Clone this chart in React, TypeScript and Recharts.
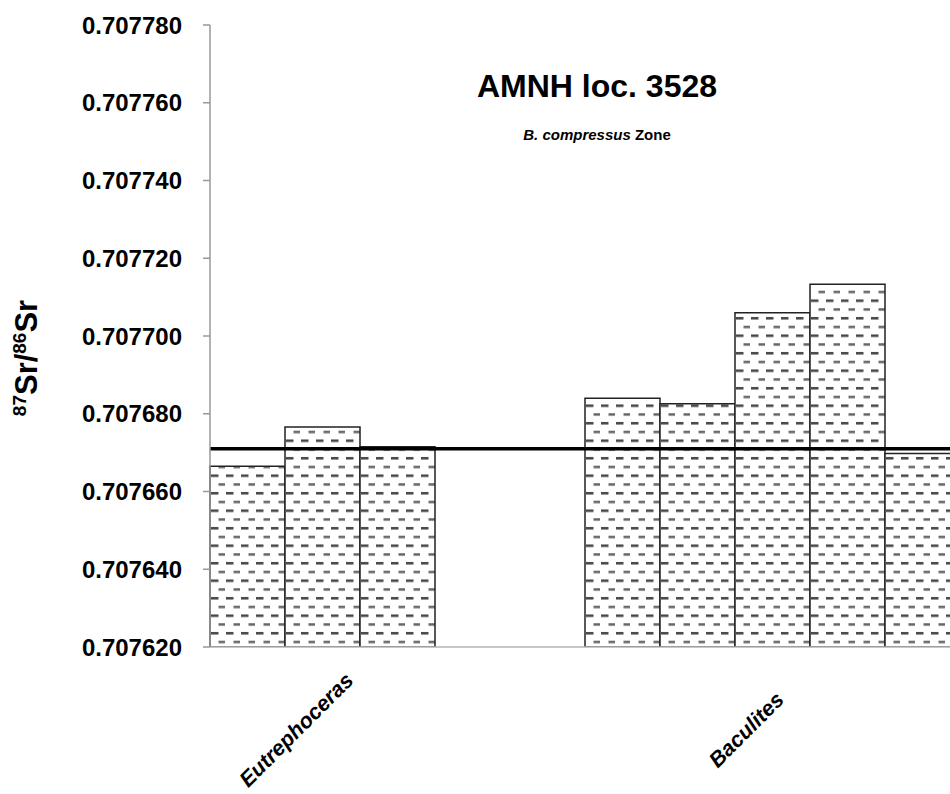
import React from 'react';
import { BarChart, Bar, XAxis, YAxis, ReferenceLine, Customized } from 'recharts';

// Sample slots along the category axis (two empty slots separate the genera)
const sampleIds = ['E1', 'E2', 'E3', 'gap1', 'gap2', 'B1', 'B2', 'B3', 'B4', 'B5'];
// Genus label shown under the middle sample of each group
const genusLabels = ['', 'Eutrephoceras', '', '', '', '', '', 'Baculites', '', ''];
// 87Sr/86Sr values per sample (null = empty slot)
const srRatios: (number | null)[] = [
  0.7076665, 0.7076766, 0.7076715, null, null,
  0.707684, 0.7076826, 0.707706, 0.7077133, 0.7076698,
];
const meanRatio = 0.707671;
const yTicks = [0.70762, 0.70764, 0.70766, 0.70768, 0.7077, 0.70772, 0.70774, 0.70776, 0.70778];
const titleText = 'AMNH loc. 3528';
const subtitleItalic = 'B. compressus';
const subtitleRest = ' Zone';

const data = sampleIds.map((id, i) => ({ id, label: genusLabels[i], value: srRatios[i] }));
const labelById: Record<string, string> = {};
data.forEach((d) => { labelById[d.id] = d.label; });

const FONT = '"Liberation Sans", Arial, Helvetica, sans-serif';

const GenusTick = (props: any) => {
  const { x, y, payload } = props;
  const text = labelById[payload.value];
  if (!text) return null;
  const cx = x - 26;
  const cy = y + 75;
  return (
    <text
      x={cx}
      y={cy}
      transform={`rotate(-45, ${cx}, ${cy})`}
      textAnchor="middle"
      dominantBaseline="central"
      fontFamily={FONT}
      fontWeight="bold"
      fontStyle="italic"
      fontSize={21.5}
      fill="#000"
    >
      {text}
    </text>
  );
};

const Titles = () => (
  <g>
    <text x={597} y={97} textAnchor="middle" fontFamily={FONT} fontWeight="bold" fontSize={32} fill="#000">
      {titleText}
    </text>
    <text x={597} y={140} textAnchor="middle" fontFamily={FONT} fontWeight="bold" fontSize={15} fill="#000">
      <tspan fontStyle="italic">{subtitleItalic}</tspan>
      <tspan>{subtitleRest}</tspan>
    </text>
    <text
      x={37}
      y={358}
      transform="rotate(-90, 37, 358)"
      textAnchor="middle"
      fontFamily={FONT}
      fontWeight="bold"
      fill="#000"
    >
      <tspan fontSize={19} dy={-11}>87</tspan>
      <tspan fontSize={31} dy={11}>Sr/</tspan>
      <tspan fontSize={19} dy={-11}>86</tspan>
      <tspan fontSize={31} dy={11}>Sr</tspan>
    </text>
  </g>
);

export default function App() {
  return (
    <div style={{ position: 'fixed', left: 0, top: 0, width: 950, height: 794, overflow: 'hidden', background: '#fff' }}>
      <BarChart
        width={975}
        height={794}
        data={data}
        margin={{ top: 25, right: 15, bottom: 0, left: 0 }}
        barCategoryGap={0}
        barGap={0}
      >
        <defs>
          <pattern id="dashFill" patternUnits="userSpaceOnUse" width={15} height={17.5}>
            <rect x={0} y={0} width={15} height={17.5} fill="#fff" />
            <rect x={1} y={2} width={7.5} height={2.5} fill="#444" />
            <rect x={8.5} y={10.75} width={7.5} height={2.5} fill="#666" />
          </pattern>
        </defs>
        <XAxis
          dataKey="id"
          height={147}
          tickLine={false}
          axisLine={{ stroke: '#b5b5b5', strokeWidth: 1.5 }}
          tick={<GenusTick />}
          interval={0}
        />
        <YAxis
          width={210}
          domain={[0.70762, 0.70778]}
          ticks={yTicks}
          allowDataOverflow
          tickFormatter={(v: number) => v.toFixed(6)}
          tick={{ fontFamily: FONT, fontWeight: 'bold', fontSize: 24, fill: '#000' }}
          tickSize={7}
          tickMargin={21}
          tickLine={{ stroke: '#999', strokeWidth: 1.5 }}
          axisLine={{ stroke: '#999', strokeWidth: 1.5 }}
        />
        <Bar
          dataKey="value"
          fill="url(#dashFill)"
          stroke="#222"
          strokeWidth={1.5}
          isAnimationActive={false}
        />
        <ReferenceLine y={meanRatio} stroke="#000" strokeWidth={3.5} />
        <Customized component={Titles} />
      </BarChart>
    </div>
  );
}
